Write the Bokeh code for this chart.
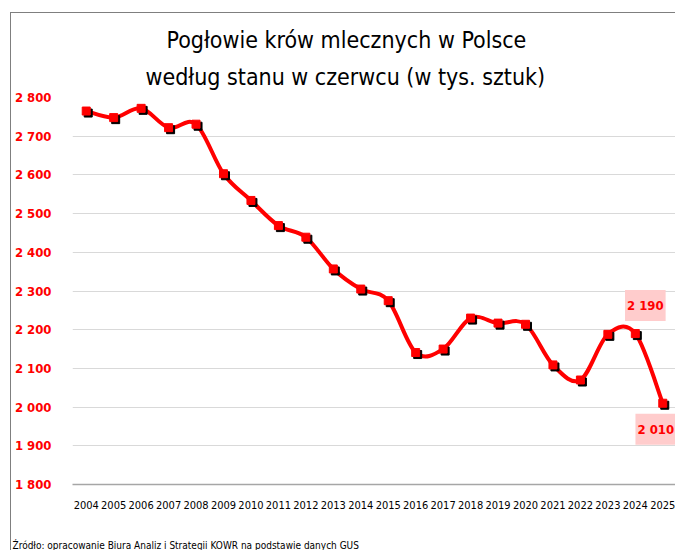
import numpy as np
from bokeh.plotting import figure
from bokeh.models import Range1d, Title, Label, FixedTicker
from bokeh.embed import file_html
from bokeh.resources import INLINE

# ---- data ----
years = list(range(2004, 2026))
cows = [2765, 2748, 2772, 2722, 2731, 2603, 2534, 2469, 2439, 2357, 2305,
        2275, 2141, 2150, 2230, 2217, 2214, 2109, 2070, 2188, 2190, 2010]
y_ticks = [1800, 1900, 2000, 2100, 2200, 2300, 2400, 2500, 2600, 2700, 2800]
y_tick_labels = ["1 800", "1 900", "2 000", "2 100", "2 200", "2 300",
                 "2 400", "2 500", "2 600", "2 700", "2 800"]
label_years = [2024, 2025]
label_texts = ["2 190", "2 010"]
title_line1 = "Pogłowie krów mlecznych w Polsce"
title_line2 = "według stanu w czerwcu (w tys. sztuk)"
source_note = "Źródło: opracowanie Biura Analiz i Strategii KOWR na podstawie danych GUS"

FONT = "DejaVu Sans Condensed"
RED = "#FF0000"

x_start, x_end = years[0] - 0.5, years[-1] + 0.5
y_start, y_end = y_ticks[0], y_ticks[-1]

p = figure(width=665, height=538, title=None, output_backend="svg",
           toolbar_location=None,
           x_range=Range1d(x_start, x_end), y_range=Range1d(y_start, y_end),
           min_border_left=57, min_border_right=0,
           min_border_top=84, min_border_bottom=67,
           margin=(12, 0, 0, 10))
p.styles = {"border-left": "1px solid #7f7f7f", "border-top": "1px solid #7f7f7f"}
p.outline_line_color = None
p.background_fill_color = "white"
p.border_fill_color = "white"

# shadow ranges (shift markers a couple of pixels right/down)
frame_w, frame_h = 607.0, 385.4
dx = 2.0 * (x_end - x_start) / frame_w
dy = 2.0 * (y_end - y_start) / frame_h
p.extra_x_ranges = {"sx": Range1d(x_start - dx, x_end - dx)}
p.extra_y_ranges = {"sy": Range1d(y_start + dy, y_end + dy)}

# smoothed line via cubic Bezier segments
xs = np.array(years, dtype=float)
ys = np.array(cows, dtype=float)
n = len(xs)
i = np.arange(n - 1)
im1 = np.clip(i - 1, 0, n - 1)
ip2 = np.clip(i + 2, 0, n - 1)
cx0 = xs[i] + (xs[i + 1] - xs[im1]) / 6.0
cy0 = ys[i] + (ys[i + 1] - ys[im1]) / 6.0
cx1 = xs[i + 1] - (xs[ip2] - xs[i]) / 6.0
cy1 = ys[i + 1] - (ys[ip2] - ys[i]) / 6.0
p.bezier(x0=xs[i], y0=ys[i], x1=xs[i + 1], y1=ys[i + 1],
         cx0=cx0, cy0=cy0, cx1=cx1, cy1=cy1,
         line_color=RED, line_width=4, line_cap="round")

# markers with black shadow
p.scatter(years, cows, marker="square", size=8, fill_color="black",
          line_color="black", x_range_name="sx", y_range_name="sy")
p.scatter(years, cows, marker="square", size=8, fill_color=RED,
          line_color=RED)

# data labels
offsets = [(10, 28), (-7, -26)]
for yr, txt, (ox, oy) in zip(label_years, label_texts, offsets):
    v = cows[years.index(yr)]
    p.add_layout(Label(x=yr, y=v, text=txt, x_offset=ox, y_offset=oy,
                       text_align="center", text_baseline="middle",
                       text_font=FONT, text_font_size="13px",
                       text_font_style="bold", text_color=RED,
                       background_fill_color="#FFCCCC",
                       background_fill_alpha=1.0,
                       padding=dict(left=2, right=2, top=8, bottom=8)))

# axes
p.xaxis.ticker = FixedTicker(ticks=years)
p.xaxis.major_tick_line_color = None
p.xaxis.minor_tick_line_color = None
p.xaxis.axis_line_color = "#a6a6a6"
p.xaxis.axis_line_width = 1.5
p.xaxis.major_label_standoff = 10
p.xaxis.major_label_text_font = FONT
p.xaxis.major_label_text_font_size = "11px"
p.xaxis.major_label_text_color = "black"

p.yaxis.ticker = FixedTicker(ticks=y_ticks)
p.yaxis.major_label_overrides = dict(zip(y_ticks, y_tick_labels))
p.yaxis.major_tick_line_color = None
p.yaxis.minor_tick_line_color = None
p.yaxis.axis_line_color = None
p.yaxis.major_label_standoff = 15
p.yaxis.major_label_text_font = FONT
p.yaxis.major_label_text_font_size = "13px"
p.yaxis.major_label_text_font_style = "bold"
p.yaxis.major_label_text_color = RED

p.xgrid.grid_line_color = None
p.ygrid.grid_line_color = "#d9d9d9"
p.ygrid.grid_line_width = 1

# titles (second line added first so it sits nearest the plot)
p.add_layout(Title(text=title_line2, align="left", text_font=FONT,
                   text_font_size="23px", text_font_style="normal",
                   text_color="black", standoff=15, offset=73), "above")
p.add_layout(Title(text=title_line1, align="left", text_font=FONT,
                   text_font_size="23px", text_font_style="normal",
                   text_color="black", standoff=4, offset=94), "above")

# spacer + source note
p.add_layout(Title(text=" ", align="left", text_font=FONT,
                   text_font_size="20px", standoff=0), "below")
p.add_layout(Title(text=source_note, align="left", text_font=FONT,
                   text_font_size="10px", text_font_style="normal",
                   text_color="black", offset=-60, standoff=0), "below")

open("out.html", "w").write(file_html(p, INLINE))
